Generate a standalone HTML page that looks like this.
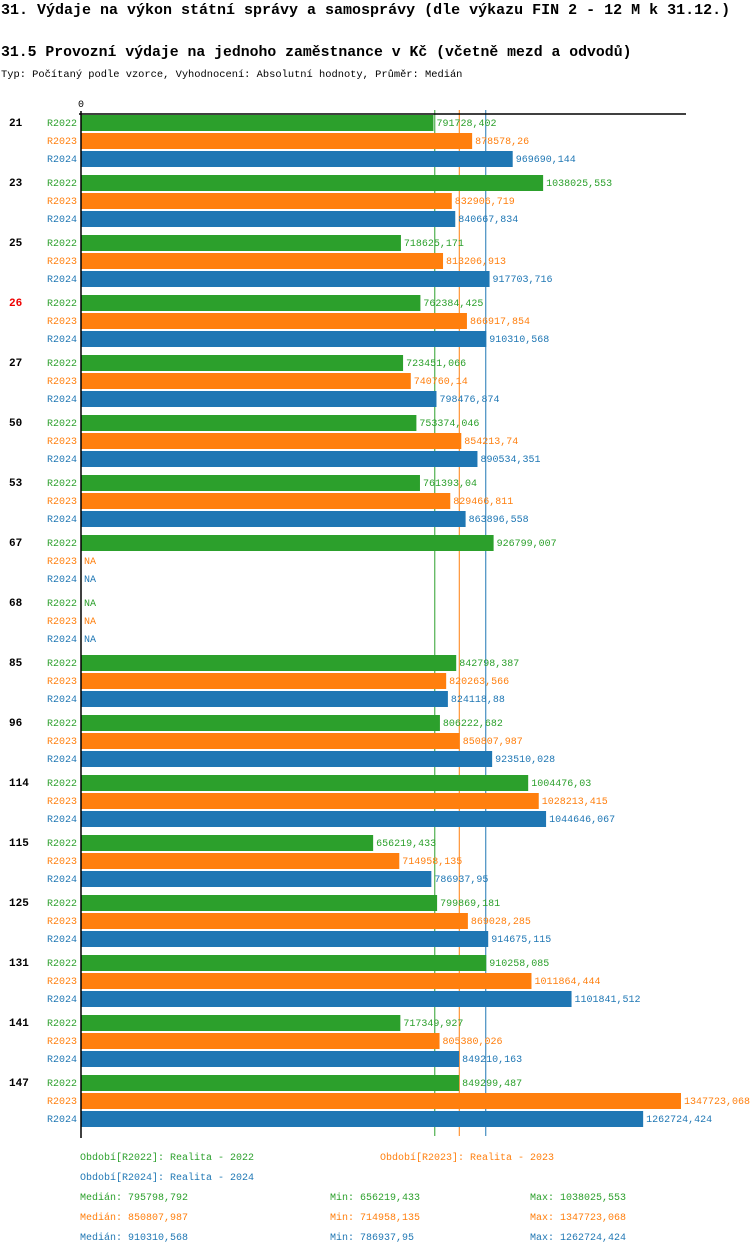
<!DOCTYPE html>
<html><head><meta charset="utf-8"><style>
body{margin:0;background:#fff;width:750px;height:1254px;overflow:hidden;font-family:"Liberation Mono",monospace}
svg text{font-family:"Liberation Mono",monospace}
</style></head><body>
<svg id="c" width="750" height="1254" xmlns="http://www.w3.org/2000/svg">
<text x="1" y="14" font-size="15" font-weight="bold">31. Výdaje na výkon státní správy a samosprávy (dle výkazu FIN 2 - 12 M k 31.12.)</text>
<text x="1" y="56" font-size="14.8" font-weight="bold">31.5 Provozní výdaje na jednoho zaměstnance v Kč (včetně mezd a odvodů)</text>
<text x="1" y="77" font-size="10.4">Typ: Počítaný podle vzorce, Vyhodnocení: Absolutní hodnoty, Průměr: Medián</text>
<text x="78" y="107" font-size="10">0</text>
</svg>
<script>
const categories=["21","23","25","26","27","50","53","67","68","85","96","114","115","125","131","141","147"];
const highlighted=["26"];
const seriesNames=["R2022","R2023","R2024"];
const colors=["#2ca02c","#ff7f0e","#1f77b4"];
const v2022=[791728.402,1038025.553,718625.171,762384.425,723451.066,753374.046,761393.04,926799.007,null,842798.387,806222.682,1004476.03,656219.433,799869.181,910258.085,717349.927,849299.487];
const v2023=[878578.26,832906.719,813206.913,866917.854,740760.14,854213.74,829466.811,null,null,820263.566,850807.987,1028213.415,714958.135,869028.285,1011864.444,805380.026,1347723.068];
const v2024=[969690.144,840667.834,917703.716,910310.568,798476.874,890534.351,863896.558,null,null,824118.88,923510.028,1044646.067,786937.95,914675.115,1101841.512,849210.163,1262724.424];
const medians=[795798.792,850807.987,910310.568];
const mins=[656219.433,714958.135,786937.95];
const maxs=[1038025.553,1347723.068,1262724.424];
const legendLabels=["Období[R2022]: Realita - 2022","Období[R2023]: Realita - 2023","Období[R2024]: Realita - 2024"];
const series=[v2022,v2023,v2024];
const NS="http://www.w3.org/2000/svg";
const svg=document.getElementById('c');
const x0=81, pxPer=600/1347723.068;
const xs=v=>x0+v*pxPer;
const fmt=v=>String(Math.round(v*1000)/1000).replace('.',',');
function el(t,a,txt){const e=document.createElementNS(NS,t);for(const k in a)e.setAttribute(k,a[k]);if(txt!==undefined)e.textContent=txt;svg.appendChild(e);return e;}
medians.forEach((m,j)=>{
  const ln=el('line',{x1:xs(m)-0.5,x2:xs(m)-0.5,y1:110,y2:1136,stroke:colors[j],'stroke-width':1});
  
  
});
categories.forEach((c,i)=>{
  const gy=114+60*i;
  const t=el('text',{x:9,y:gy+12,'font-size':11,'font-weight':'bold',fill:highlighted.includes(c)?'#e00':'#000'},c);
  
  
  series.forEach((s,j)=>{
    const y=gy+1+18*j;
    const l=el('text',{x:47,y:y+11,'font-size':10,fill:colors[j]},seriesNames[j]);
    
    
    const v=s[i];
    if(v==null){
      const n=el('text',{x:84,y:y+11,'font-size':10,fill:colors[j]},'NA');
      
      
      return;
    }
    const r=el('rect',{x:x0,y:y,width:xs(v)-x0,height:16,fill:colors[j]});
    
    
    const vt=el('text',{x:xs(v)+3,y:y+11,'font-size':10,fill:colors[j]},fmt(v));
    
    
  });
});
const ax=el('line',{x1:79,x2:686,y1:114,y2:114,stroke:'#000','stroke-width':1.5});


const ay=el('line',{x1:81,x2:81,y1:111,y2:1138,stroke:'#000','stroke-width':1.5});


const lp=[[80,1160],[380,1160],[80,1180]];
legendLabels.forEach((t,j)=>{
  const e=el('text',{x:lp[j][0],y:lp[j][1],'font-size':10,fill:colors[j]},t);
  
  
});
series.forEach((s,j)=>{
  const y=1200+20*j;
  const a=el('text',{x:80,y:y,'font-size':10,fill:colors[j]},'Medián: '+fmt(medians[j]));
  
  
  const b=el('text',{x:330,y:y,'font-size':10,fill:colors[j]},'Min: '+fmt(mins[j]));
  
  
  const d=el('text',{x:530,y:y,'font-size':10,fill:colors[j]},'Max: '+fmt(maxs[j]));
  
  
});
</script>
</body></html>
